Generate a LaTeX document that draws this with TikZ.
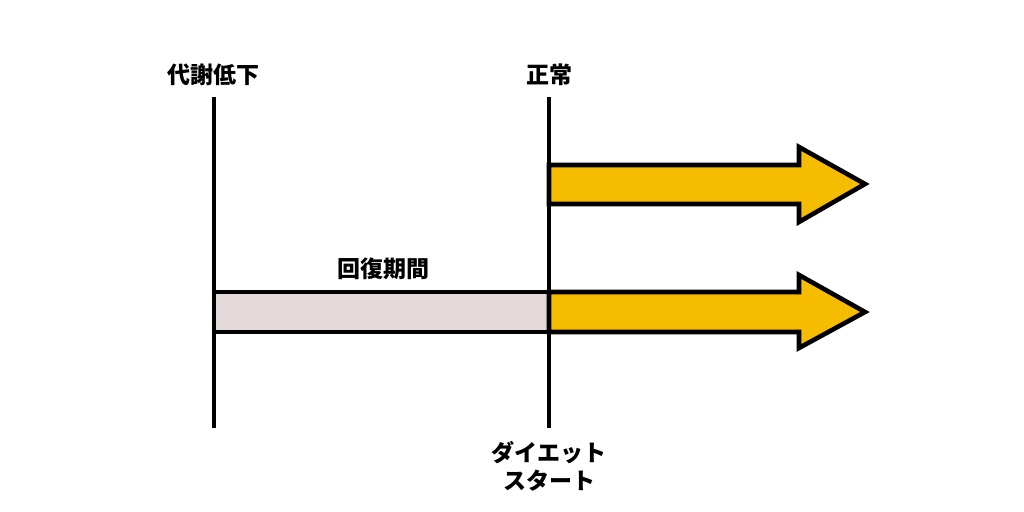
\documentclass[tikz,border=0pt]{standalone}
\usepackage{fontspec}
\newfontfamily\jpfont{Noto Sans CJK JP}
\definecolor{barYellow}{HTML}{F6BD00}
\definecolor{barGray}{HTML}{E3D9D9}
\begin{document}
\begin{tikzpicture}[x=0.5pt,y=-0.5pt,line join=miter]
        % Styles
        \tikzstyle{time line}=[line width=2.3pt]
        \tikzstyle{period box}=[line width=2.3pt,draw=black]
        \tikzstyle{label text}=[font=\jpfont\bfseries\fontsize{11.5}{14}\selectfont,inner sep=0pt,align=center]
        %The graphic
        \useasboundingbox[fill=white] (0,0) rectangle (1024,512);
        %marks
        \coordinate (low top) at (214,97);
        \coordinate (low bottom) at (214,428);
        \coordinate (start top) at (549,97);
        \coordinate (start bottom) at (549,428);
        %bars
        \draw[period box,fill=barGray] (214,292) rectangle (549,332);
        \draw[period box,fill=barYellow] (549,165) -- (799,165) -- (799,147) -- (865,184)
            -- (799,222) -- (799,204) -- (549,204) -- cycle;
        \draw[period box,fill=barYellow] (549,292) -- (799,292) -- (799,275) -- (865,312)
            -- (799,348) -- (799,332) -- (549,332) -- cycle;
        \draw[time line] (low top) -- (low bottom);
        \draw[time line] (start top) -- (start bottom);
        %labels
        \node[label text] (low) at (213,75) {代謝低下};
        \node[label text] (normal) at (549,75) {正常};
        \node[label text] (recovery) at (383,269) {回復期間};
        \node[label text] (diet) at (549,466) {ダイエット\\スタート};
    \end{tikzpicture}
\end{document}
